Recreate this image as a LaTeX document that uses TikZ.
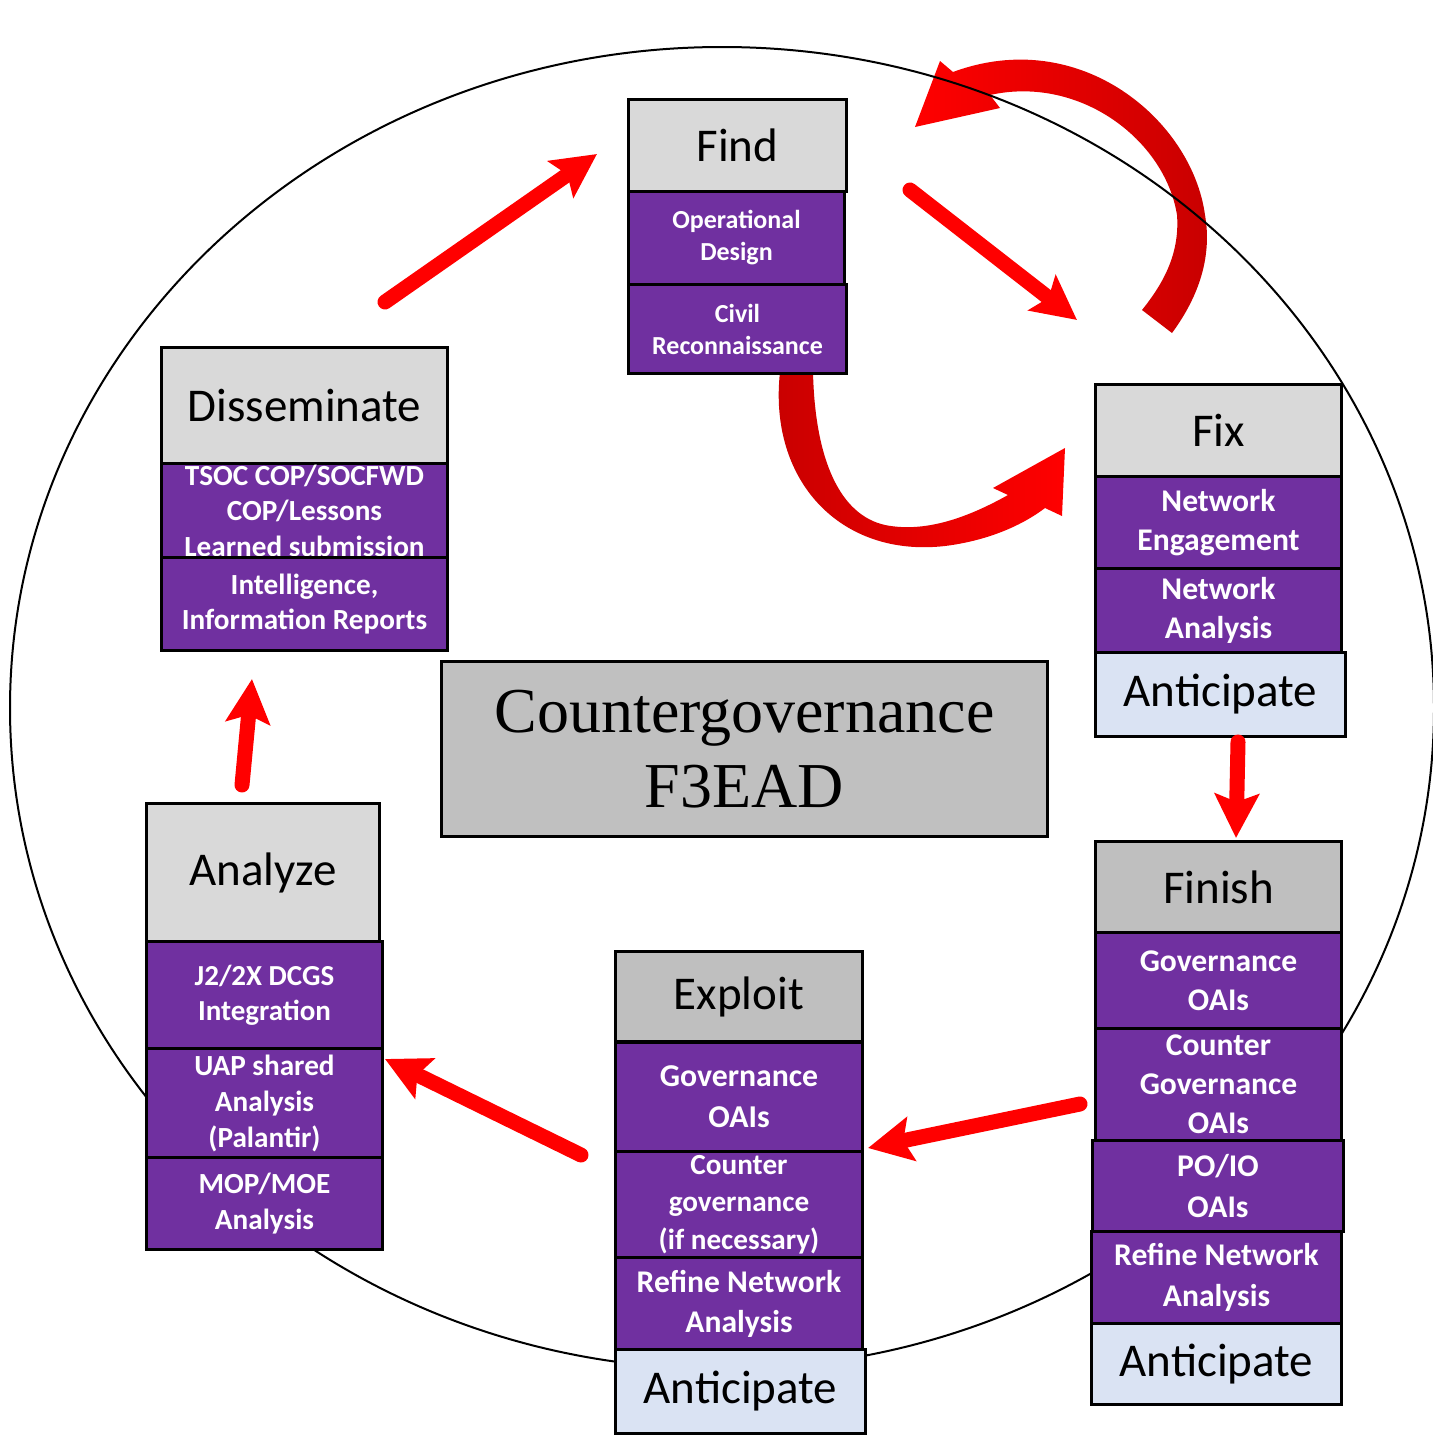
\documentclass[tikz,border=0pt]{standalone}
\usepackage{fontspec}
\setmainfont{Carlito}
\newfontfamily\serifc{Liberation Serif}
\usetikzlibrary{arrows.meta}
\definecolor{hdrgray}{HTML}{D9D9D9}
\definecolor{hdrdark}{HTML}{BFBFBF}
\definecolor{purp}{HTML}{7030A0}
\definecolor{antblue}{HTML}{DAE3F3}
\definecolor{ctrgray}{HTML}{C0C0C0}
\definecolor{darkred}{HTML}{C80000}
\definecolor{brightred}{HTML}{FF0000}
\begin{document}
\begin{tikzpicture}[x=0.5pt,y=-0.5pt,
  hdr/.style={draw, line width=1.5pt, fill=hdrgray, inner sep=0pt, anchor=north west, font=\fontsize{23.5}{28}\selectfont},
  hdrd/.style={hdr, fill=hdrdark},
  antic/.style={hdr, fill=antblue},
  pbox/.style={draw, line width=1.5pt, fill=purp, text=white, inner sep=0pt, anchor=north west, align=center},
  ctr/.style={draw, line width=1.5pt, fill=ctrgray, inner sep=0pt, anchor=north west, align=center, font=\serifc\fontsize{32}{37.5}\selectfont},
  flow/.style={draw=brightred, line width=7.5pt, line cap=round, -{Stealth[length=22pt, width=22pt, inset=4pt]}},
  fa/.style={font=\bfseries\fontsize{13}{16}\selectfont},
  fb/.style={font=\bfseries\fontsize{14.6}{17.75}\selectfont},
  fc/.style={font=\bfseries\fontsize{15.8}{19.5}\selectfont},
  fd/.style={font=\bfseries\fontsize{14.6}{18}\selectfont},
]
\useasboundingbox (0,0) rectangle (1433,1440);

% curved arrows
\shade[left color=darkred, right color=brightred]
  (813,372) -- (780,372) .. controls (768,480) and (840,558) .. (945,546)
  .. controls (985,541) and (1020,527) .. (1045,508) -- (1062,516) -- (1065,448)
  -- (993,488) -- (1008,495) .. controls (960,522) and (920,532) .. (885,525)
  .. controls (840,515) and (815,460) .. (813,372) -- cycle;
\shade[left color=brightred, right color=darkred]
  (1142,310) -- (1172,333) .. controls (1200,295) and (1212,255) .. (1205,215)
  .. controls (1192,120) and (1080,25) .. (953,72) -- (940,61) -- (915,127)
  -- (1000,108) -- (990,95) .. controls (1080,75) and (1165,140) .. (1177,215)
  .. controls (1180,255) and (1162,285) .. (1142,310) -- cycle;

% big ellipse
\draw[line width=1pt] (722,708) ellipse [x radius=356pt, y radius=330.5pt];

% Find
\node[hdr, minimum width=109pt, minimum height=46pt] (find) at (627,98) {Find};
\node[pbox, fa, minimum width=108pt, minimum height=46.5pt] (findod) at (627,190) {Operational\\Design};
\node[pbox, fa, minimum width=109pt, minimum height=44.5pt] (findcr) at (627,283) {Civil\\Reconnaissance};

% Disseminate
\node[hdr, minimum width=143pt, minimum height=58pt] (diss) at (160,346) {Disseminate};
\node[pbox, fb, minimum width=143pt, minimum height=47pt] (disst) at (160,462) {TSOC COP/SOCFWD\\COP/Lessons\\Learned submission};
\node[pbox, fb, minimum width=143pt, minimum height=46.5pt] (dissi) at (160,556) {Intelligence,\\Information Reports};

% Fix
\node[hdr, minimum width=123pt, minimum height=46pt] (fix) at (1094,383) {Fix};
\node[pbox, fc, minimum width=123pt, minimum height=46pt] (fixne) at (1094,475) {Network\\Engagement};
\node[pbox, fc, minimum width=123pt, minimum height=42pt] (fixna) at (1094,567) {Network\\Analysis};
\node[antic, minimum width=125pt, minimum height=42pt] (fixan) at (1094,651) {Anticipate};

% Finish
\node[hdrd, minimum width=123pt, minimum height=45.5pt] (fin) at (1094,840) {Finish};
\node[pbox, fc, minimum width=123pt, minimum height=48pt] (fing) at (1094,931) {Governance\\OAIs};
\node[pbox, fc, minimum width=123pt, minimum height=56pt] (fincg) at (1094,1027) {Counter\\Governance\\OAIs};
\node[pbox, font=\bfseries\fontsize{15.8}{20.5}\selectfont, minimum width=125.5pt, minimum height=45.5pt] (finpo) at (1091,1139) {PO/IO\\OAIs};
\node[pbox, font=\bfseries\fontsize{15.8}{20.5}\selectfont, minimum width=125pt, minimum height=46pt] (finrna) at (1090,1230) {Refine Network\\Analysis};
\node[antic, minimum width=125pt, minimum height=40.5pt] (finan) at (1090,1322) {Anticipate};

% Exploit
\node[hdrd, minimum width=123.5pt, minimum height=45pt] (exp) at (614,950) {Exploit};
\node[pbox, font=\bfseries\fontsize{15.9}{20.5}\selectfont, minimum width=123.5pt, minimum height=54.5pt] (expg) at (614,1041) {Governance\\OAIs};
\node[pbox, font=\bfseries\fontsize{14.6}{18.75}\selectfont, minimum width=123.5pt, minimum height=53pt] (expcg) at (614,1150) {Counter\\governance\\(if necessary)};
\node[pbox, font=\bfseries\fontsize{15.8}{20}\selectfont, minimum width=123.5pt, minimum height=46pt] (exprna) at (614,1256) {Refine Network\\Analysis};
\node[antic, minimum width=125pt, minimum height=42pt] (expan) at (614,1348) {Anticipate};

% Analyze
\node[hdr, minimum width=116.5pt, minimum height=69pt] (ana) at (145,802) {Analyze};
\node[pbox, font=\bfseries\fontsize{14.5}{17.5}\selectfont, minimum width=118pt, minimum height=53.5pt] (anaj) at (145,940) {J2/2X DCGS\\Integration};
\node[pbox, fd, minimum width=118pt, minimum height=54.5pt] (anau) at (145,1047) {UAP shared\\Analysis\\(Palantir)};
\node[pbox, fd, minimum width=118pt, minimum height=46pt] (anam) at (145,1156) {MOP/MOE\\Analysis};

% Center
\node[ctr, minimum width=303pt, minimum height=87.5pt] (center) at (440,660) {Countergovernance\\F3EAD};

% straight arrows
\coordinate (d2fs) at (385,302); \coordinate (d2fe) at (597,154);
\coordinate (f2xs) at (910,190); \coordinate (f2xe) at (1077,320);
\coordinate (x2ns) at (1238,742); \coordinate (x2ne) at (1236,838);
\coordinate (n2es) at (1080,1104); \coordinate (n2ee) at (868,1148);
\coordinate (e2as) at (581,1155); \coordinate (e2ae) at (385,1059);
\coordinate (a2ds) at (242,785); \coordinate (a2de) at (252,679);
\draw[flow] (d2fs) -- (d2fe);
\draw[flow] (f2xs) -- (f2xe);
\draw[flow] (x2ns) -- (x2ne);
\draw[flow] (n2es) -- (n2ee);
\draw[flow] (e2as) -- (e2ae);
\draw[flow] (a2ds) -- (a2de);
\end{tikzpicture}
\end{document}
